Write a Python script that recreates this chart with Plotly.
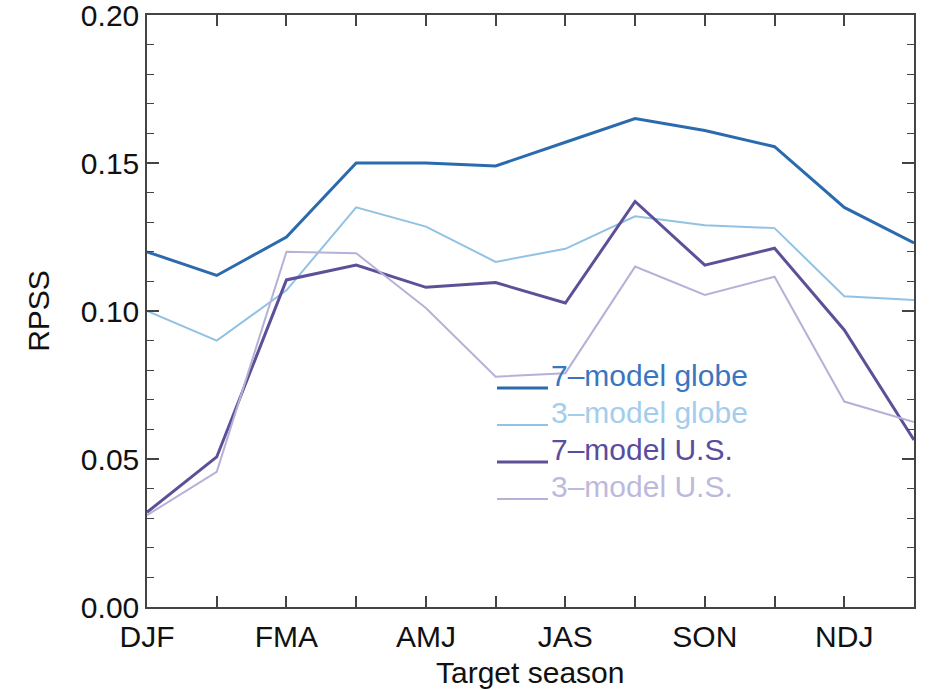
import plotly.graph_objects as go

# ---- data ----
season_index = list(range(12))
tick_positions = [0, 2, 4, 6, 8, 10]
tick_labels = ["DJF", "FMA", "AMJ", "JAS", "SON", "NDJ"]

globe_7model = [0.120, 0.112, 0.125, 0.150, 0.150, 0.149, 0.157, 0.165, 0.161, 0.1555, 0.135, 0.123]
globe_3model = [0.100, 0.090, 0.107, 0.135, 0.1285, 0.1166, 0.121, 0.132, 0.129, 0.128, 0.105, 0.1037]
us_7model = [0.032, 0.0507, 0.1105, 0.1155, 0.108, 0.1096, 0.1027, 0.137, 0.1155, 0.1212, 0.0936, 0.0564]
us_3model = [0.031, 0.0457, 0.120, 0.1195, 0.101, 0.0778, 0.079, 0.115, 0.1054, 0.1116, 0.0694, 0.0625]

series_names = ["7–model globe", "3–model globe", "7–model U.S.", "3–model U.S."]
series_values = [globe_7model, globe_3model, us_7model, us_3model]
line_colors = ["#2c6aae", "#92c2e3", "#5e4f98", "#b7b1d8"]
text_colors = ["#3a76bf", "#a3cdeb", "#5a4c9e", "#bdb9dc"]
line_widths = [3, 2, 3, 2]

FONT = "Liberation Sans, Arial, Helvetica, sans-serif"
FS = 30

fig = go.Figure()
for name, vals, col, w in zip(series_names, series_values, line_colors, line_widths):
    fig.add_trace(go.Scatter(x=season_index, y=vals, mode="lines", name=name,
                             line=dict(color=col, width=w), showlegend=False))

# plot area geometry in pixels (for legend placement)
W, H = 930, 690
L, R, T, B = 147, 16, 15, 83
pw, ph = W - L - R, H - T - B

def px(x):
    return (x - L) / pw

def py(y):
    return (H - B - y) / ph

# custom legend: line sample at text baseline, coloured text
for i, (name, lc, tc, w) in enumerate(zip(series_names, line_colors, text_colors, line_widths)):
    yc = 375 + 37 * i
    fig.add_shape(type="line", xref="paper", yref="paper",
                  x0=px(497), x1=px(548), y0=py(yc + 13), y1=py(yc + 13),
                  line=dict(color=lc, width=w))
    fig.add_annotation(xref="paper", yref="paper", x=px(549), y=py(yc),
                       text=name, showarrow=False, xanchor="left", yanchor="middle",
                       font=dict(family=FONT, size=FS, color=tc))

# x-axis title
fig.add_annotation(xref="paper", yref="paper", x=px(530), y=py(672),
                   text="Target season", showarrow=False, xanchor="center", yanchor="middle",
                   font=dict(family=FONT, size=FS, color="#111"))

fig.update_layout(
    width=W, height=H,
    margin=dict(l=L, r=R, t=T, b=B, autoexpand=False),
    paper_bgcolor="white", plot_bgcolor="white",
    font=dict(family=FONT, size=FS, color="#111"),
)
fig.update_xaxes(
    range=[0, 11], tickvals=tick_positions, ticktext=tick_labels,
    showgrid=False, zeroline=False, showline=True, linecolor="#444", linewidth=1.5,
    mirror="allticks", ticks="inside", ticklen=11, tickcolor="#444", tickwidth=1.5,
    minor=dict(tickvals=season_index, ticks="inside", ticklen=11, tickcolor="#444", tickwidth=1.5),
    tickfont=dict(family=FONT, size=FS, color="#111"),
    ticklabelstandoff=2, ticklabeloverflow="allow", automargin=False,
)
fig.update_yaxes(
    range=[0, 0.20], tickvals=[0, 0.05, 0.10, 0.15, 0.20], tickformat=".2f",
    showgrid=False, zeroline=False, showline=True, linecolor="#444", linewidth=1.5,
    mirror="allticks", ticks="inside", ticklen=12, tickcolor="#444", tickwidth=1.5,
    minor=dict(dtick=0.01, ticks="inside", ticklen=7, tickcolor="#444", tickwidth=1.2),
    tickfont=dict(family=FONT, size=FS, color="#111"),
    ticklabeloverflow="allow", automargin=False,
    title=dict(text="RPSS", font=dict(family=FONT, size=FS, color="#111"), standoff=22),
)

fig.write_html("out.html")
